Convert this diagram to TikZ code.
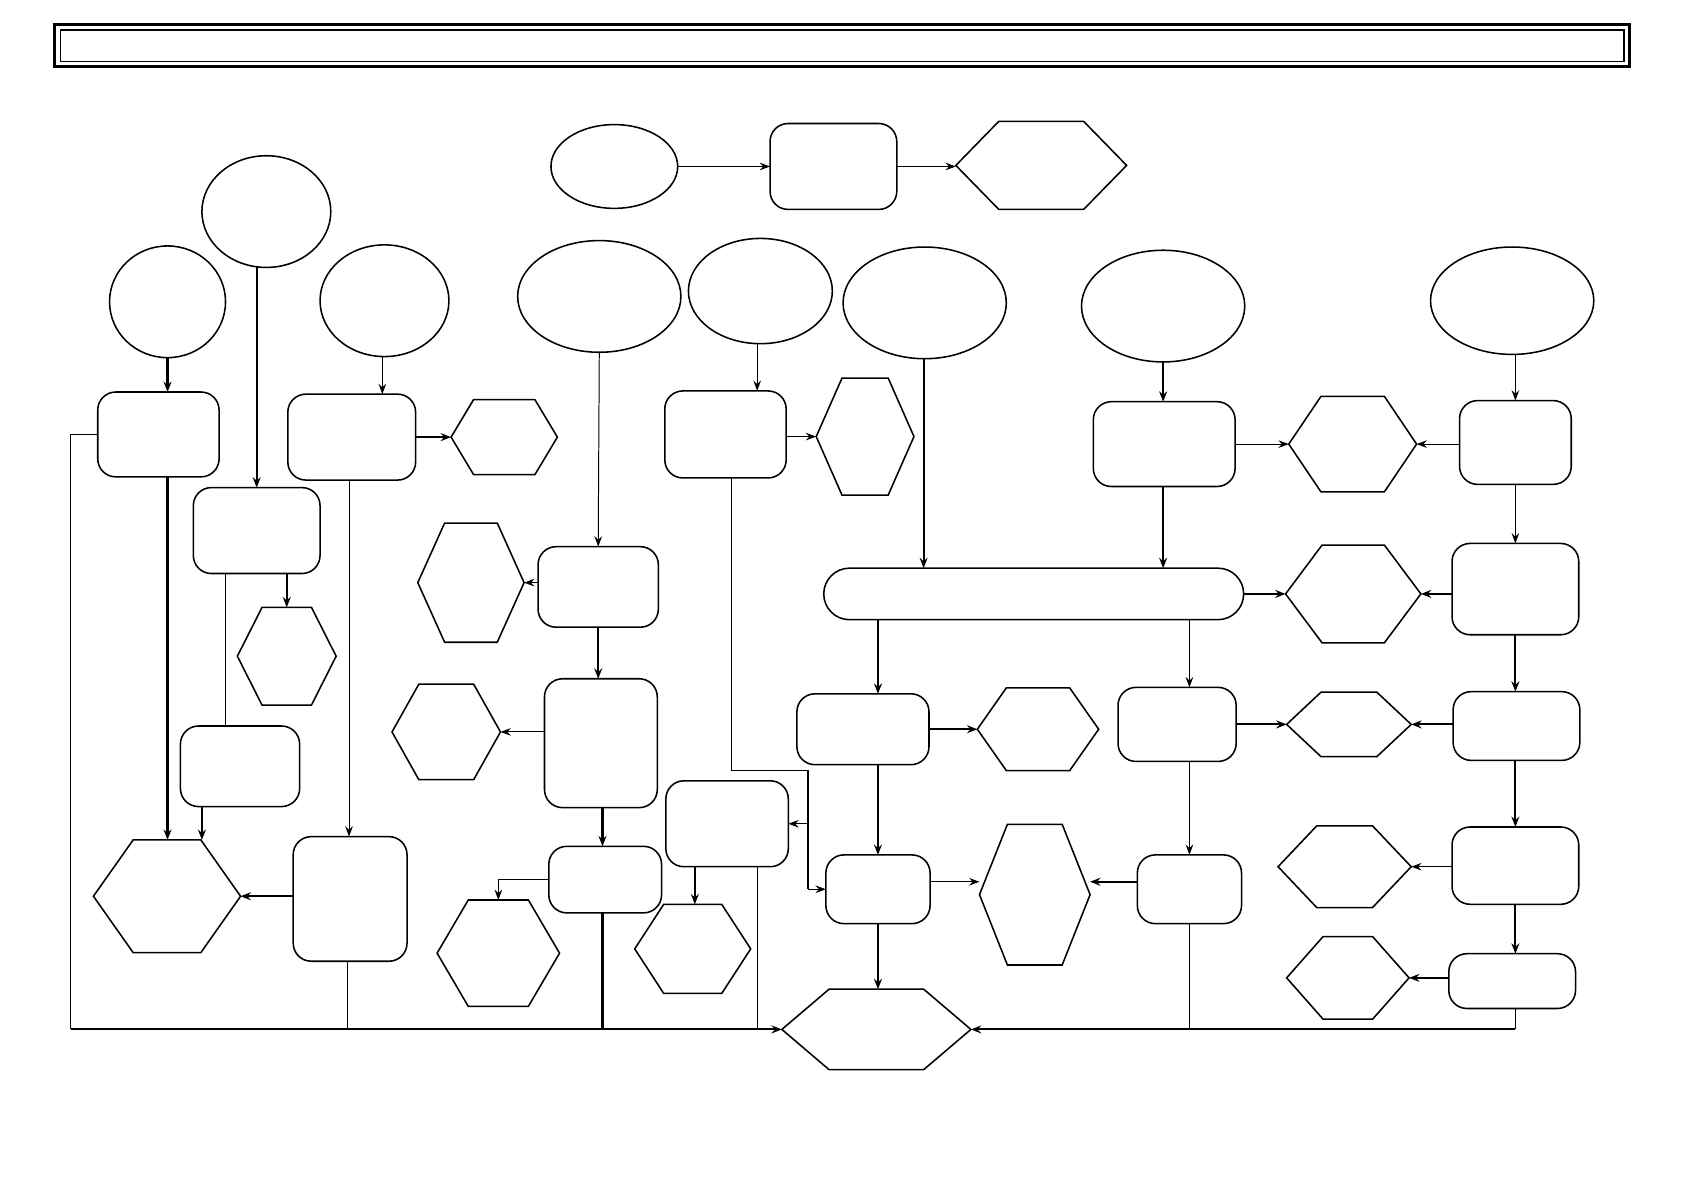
\documentclass[tikz,border=0pt]{standalone}
\usepackage{tikz}
\usetikzlibrary{arrows.meta,shapes.geometric,positioning,calc}
\newcommand{\pxu}{0.0268cm}
\tikzset{
  shapeline/.style={line width=1.1pt},
  wh/.style 2 args={minimum width={#1*\pxu}, minimum height={#2*\pxu}},
  oval/.style={ellipse, draw, shapeline, inner sep=0pt, outer sep=0pt},
  box/.style={rectangle, draw, shapeline, rounded corners=0.45cm, inner sep=0pt, outer sep=0pt},
  hexbox/.style={rectangle, draw=none, inner sep=0pt, outer sep=0pt},
  lnthin/.style={line width=0.7pt},
  lnthick/.style={line width=1.5pt},
  arthin/.style={lnthin, -{Stealth[length=2.6mm,width=1.9mm,inset=0.9mm]}},
  arthick/.style={lnthick, -{Stealth[length=2.6mm,width=2mm,inset=0.9mm]}}
}
% hexagon: name, centre, width, height, inset of the top edge
\newcommand{\hexa}[5]{%
  \node[hexbox, wh={#3}{#4}] (#1) at (#2) {};
  \draw[shapeline] (#1.west) -- ([xshift={#5*\pxu}]#1.north west) -- ([xshift={-#5*\pxu}]#1.north east)
    -- (#1.east) -- ([xshift={-#5*\pxu}]#1.south east) -- ([xshift={#5*\pxu}]#1.south west) -- cycle;}
\begin{document}
\begin{tikzpicture}[x=\pxu, y=-\pxu]
	\useasboundingbox (0,0) rectangle (1568,1108);

	% title frame
	\draw[line width=2.4pt] (51,23) rectangle (1517,62);
	\draw[line width=0.9pt] (56,28) rectangle (1512,57);

	% top row
	\node[oval, wh={118}{78}] (ovT) at (572,155) {};
	\node[box, wh={118}{80}] (bxT) at (776,155) {};
	\hexa{hxT}{969.5,154}{159}{82}{40}

	% ovals
	\node[oval, wh={108}{104}] (ovA) at (156,281) {};
	\node[oval, wh={120}{104}] (ovB) at (248,197) {};
	\node[oval, wh={120}{104}] (ovC) at (358,280) {};
	\node[oval, wh={152}{104}] (ovD) at (558,276) {};
	\node[oval, wh={134}{98}] (ovE) at (708,271) {};
	\node[oval, wh={152}{104}] (ovF) at (861,282) {};
	\node[oval, wh={152}{104}] (ovG) at (1083,285) {};
	\node[oval, wh={152}{100}] (ovH) at (1408,280) {};

	% boxes
	\node[box, wh={113}{79}] (bxA) at (147.5,404.5) {};
	\node[box, wh={118}{80}] (bxB) at (239,494) {};
	\node[box, wh={111}{75}] (bxB2) at (223.5,713.5) {};
	\node[box, wh={119}{80}] (bxC) at (327.5,407) {};
	\node[box, wh={106}{116}] (bxC2) at (326,837) {};
	\node[box, wh={112}{75}] (bxD1) at (557,546.5) {};
	\node[box, wh={105}{120}] (bxD2) at (559.5,692) {};
	\node[box, wh={105}{62}] (bxD3) at (563.5,819) {};
	\node[box, wh={113}{81}] (bxE1) at (675.5,404.5) {};
	\node[box, wh={114}{80}] (bxE2) at (677,767) {};
	\node[box, wh={391}{48}, rounded corners={24*\pxu}] (bar) at (962.5,553) {};
	\node[box, wh={132}{79}] (bxG) at (1084,413.5) {};
	\node[box, wh={123}{66}] (bxF1) at (803.5,679) {};
	\node[box, wh={97}{64}] (bxF2) at (817.5,828) {};
	\node[box, wh={110}{69}] (bxG1) at (1096,674.5) {};
	\node[box, wh={97}{64}] (bxG2) at (1107.5,828) {};
	\node[box, wh={104}{78}] (bxH1) at (1411,412) {};
	\node[box, wh={118}{85}] (bxH2) at (1411,548.5) {};
	\node[box, wh={118}{64}] (bxH3) at (1412,676) {};
	\node[box, wh={118}{72}] (bxH4) at (1411,806) {};
	\node[box, wh={118}{51}] (bxH5) at (1408,913.5) {};

	% hexagons
	\hexa{hxC}{469.5,407}{99}{70}{21}
	\hexa{hxB}{267,611}{92}{91}{23}
	\hexa{hxL}{155.5,834.5}{137}{105}{37}
	\hexa{hxD1}{438.5,542.5}{99}{111}{25}
	\hexa{hxD2}{415.5,681.5}{101}{89}{25}
	\hexa{hxD3}{464,887.5}{114}{99}{29}
	\hexa{hxE1}{805.5,406.5}{91}{109}{24}
	\hexa{hxE2}{645,883.5}{108}{83}{27}
	\hexa{hxF1}{966.5,679}{113}{77}{27}
	\hexa{hxF2}{963.5,833}{103}{131}{26}
	\hexa{hxG}{1259.5,413.5}{119}{89}{30}
	\hexa{hxG2}{1260,553}{126}{91}{34}
	\hexa{hxG3}{1256,674.5}{116}{60}{32}
	\hexa{hxH4}{1252,807}{124}{76}{36}
	\hexa{hxH5}{1255,910.5}{114}{77}{34}
	\hexa{hxEnd}{816,958.5}{176}{75}{44}

	\coordinate (busL) at (66,958.5);
	\coordinate (busR) at (1411,958.5);
	\coordinate (jnTop) at (752,717);
	\coordinate (jnBot) at (752,828);

	% top row
	\draw[arthin] (ovT.east) -- (bxT.west);
	\draw[arthin] (bxT.east) -- (bxT.east -| hxT.west);

	% left part
	\draw[arthick] (ovA.south) -- (ovA.south |- bxA.north);
	\draw[arthick] (ovA.south |- bxA.south) -- (ovA.south |- hxL.north);
	\draw[lnthin] (bxA.west) -| (busL);
	\draw[arthick] (bxB.north |- ovB.south) -- (bxB.north);
	\draw[arthick] (hxB.north |- bxB.south) -- (hxB.north);
	\draw[lnthin] (bxB.south -| 210,0) -- (bxB2.north -| 210,0);
	\draw[arthick] (bxB2.south -| 188,0) -- (hxL.north -| 188,0);
	\draw[arthin] (ovC.south -| 356,0) -- (bxC.north -| 356,0);
	\draw[arthick] (bxC.east) -- (hxC.west);
	\draw[arthin] (bxC.south -| 325,0) -- (bxC2.north -| 325,0);
	\draw[arthick] (bxC2.west |- hxL.east) -- (hxL.east);
	\draw[lnthin] (bxC2.south -| 324,0) -- (busL -| 324,0);

	% middle part
	\draw[arthin] (ovD.south) -- (bxD1.north);
	\draw[arthin] (bxD1.west |- hxD1.east) -- (hxD1.east);
	\draw[arthick] (bxD1.south) -- (bxD1.south |- bxD2.north);
	\draw[arthin] (bxD2.west |- hxD2.east) -- (hxD2.east);
	\draw[arthick] (bxD2.south -| 561,0) -- (bxD3.north -| 561,0);
	\draw[arthin] (bxD3.west) -| (hxD3.north);
	\draw[lnthick] (bxD3.south -| 561,0) -- (busL -| 561,0);
	\draw[arthin] (ovE.south -| 705,0) -- (bxE1.north -| 705,0);
	\draw[arthin] (bxE1.east |- hxE1.west) -- (hxE1.west);
	\draw[lnthin] (bxE1.south -| 681,0) |- (jnTop);
	\draw[lnthick] (jnTop) -- (jnBot);
	\draw[arthin] (jnTop |- bxE2.east) -- (bxE2.east);
	\draw[arthin] (jnBot) -- (bxF2.west);
	\draw[arthick] (bxE2.south -| 647,0) -- (hxE2.north -| 647,0);
	\draw[lnthin] (bxE2.south -| 705,0) -- (busL -| 705,0);

	% bar and below
	\draw[arthick] (ovF.south -| 860,0) -- (bar.north -| 860,0);
	\draw[arthick] (ovG.south) -- (ovG.south |- bxG.north);
	\draw[arthick] (bxG.south -| ovG.south) -- (bar.north -| ovG.south);
	\draw[arthin] (bxG.east) -- (hxG.west);
	\draw[arthick] (bar.east) -- (hxG2.west);
	\draw[arthick] (bar.south -| bxF2.north) -- (bxF1.north -| bxF2.north);
	\draw[arthick] (bxF1.east) -- (hxF1.west);
	\draw[arthick] (bxF1.south -| bxF2.north) -- (bxF2.north);
	\draw[arthin] (bxF2.east |- 0,821) -- (hxF2.west |- 0,821);
	\draw[arthick] (bxG2.west |- 0,821) -- (hxF2.east |- 0,821);
	\draw[arthin] (bar.south -| bxG2.north) -- (bxG1.north -| bxG2.north);
	\draw[arthick] (bxG1.east) -- (hxG3.west);
	\draw[arthin] (bxG1.south -| bxG2.north) -- (bxG2.north);
	\draw[lnthin] (bxG2.south) -- (bxG2.south |- busL);
	\draw[arthick] (bxF2.south) -- (bxF2.south |- hxEnd.north);

	% right column
	\draw[arthin] (ovH.south -| bxH1.north) -- (bxH1.north);
	\draw[arthin] (bxH1.west |- hxG.east) -- (hxG.east);
	\draw[arthin] (bxH1.south) -- (bxH2.north);
	\draw[arthick] (bxH2.west |- hxG2.east) -- (hxG2.east);
	\draw[arthick] (bxH2.south) -- (bxH2.south |- bxH3.north);
	\draw[arthick] (bxH3.west |- hxG3.east) -- (hxG3.east);
	\draw[arthick] (bxH3.south -| bxH4.north) -- (bxH4.north);
	\draw[arthin] (bxH4.west |- hxH4.east) -- (hxH4.east);
	\draw[arthick] (bxH4.south -| busR) -- (bxH5.north -| busR);
	\draw[arthick] (bxH5.west |- hxH5.east) -- (hxH5.east);
	\draw[lnthin] (bxH5.south -| busR) -- (busR);

	% bottom bus
	\draw[arthick] (busL) -- (hxEnd.west);
	\draw[arthick] (busR) -- (hxEnd.east);
\end{tikzpicture}
\end{document}
